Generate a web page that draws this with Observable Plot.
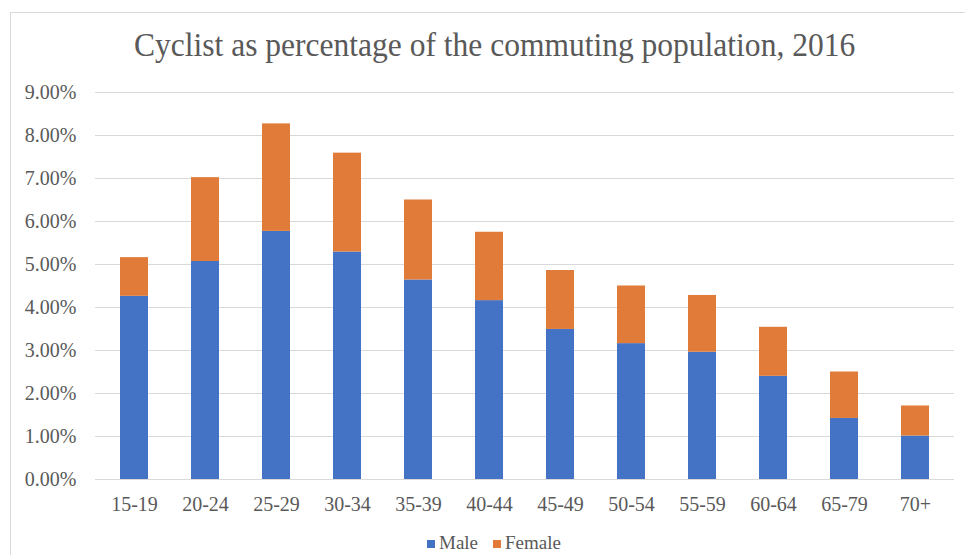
<!DOCTYPE html>
<html>
<head>
<meta charset="utf-8">
<script src="https://cdn.jsdelivr.net/npm/d3@7"></script>
<script src="https://cdn.jsdelivr.net/npm/@observablehq/plot@0.6"></script>
<style>
  html, body { margin: 0; padding: 0; background: #fff; }
  #chart { position: relative; width: 965px; height: 555px; overflow: hidden; font-family: "Liberation Serif", "Times New Roman", serif; color: #595959; }
  #frame { position: absolute; left: 10px; top: 12px; width: 970px; height: 560px; border: 1px solid #d9d9d9; box-sizing: border-box; }
  #title { position: absolute; left: 0; top: 27px; width: 990px; text-align: center; font-size: 33px; line-height: 36px; color: #595959; white-space: nowrap; }
  #title span { display: inline-block; transform: scaleX(0.955); }
  #plot { position: absolute; left: 0; top: 80px; }
  #legend { position: absolute; left: 427px; top: 534px; font-size: 19px; line-height: 18px; white-space: nowrap; }
  #legend span.item { margin-right: 15px; }
  #legend span.sw { display: inline-block; width: 8px; height: 8px; margin-right: 4px; vertical-align: 1px; }
</style>
</head>
<body>
<div id="chart">
  <div id="frame"></div>
  <div id="title"><span>Cyclist as percentage of the commuting population, 2016</span></div>
  <div id="plot"></div>
  <div id="legend"></div>
</div>
<script>
// Age bands and cycling share (% of commuters) by sex
const ageGroups = ["15-19", "20-24", "25-29", "30-34", "35-39", "40-44", "45-49", "50-54", "55-59", "60-64", "65-79", "70+"];
const male   = [4.26, 5.07, 5.77, 5.29, 4.64, 4.16, 3.49, 3.16, 2.96, 2.40, 1.42, 1.01];
const female = [0.90, 1.95, 2.50, 2.30, 1.86, 1.59, 1.37, 1.34, 1.32, 1.14, 1.08, 0.70];
const series = ["Male", "Female"];
const colors = ["#4472c4", "#e07b39"];
const yTicks = [0, 1, 2, 3, 4, 5, 6, 7, 8, 9];

const rows = [];
ageGroups.forEach((age, i) => {
  rows.push({age, sex: "Male", value: male[i]});
  rows.push({age, sex: "Female", value: female[i]});
});

const chart = Plot.plot({
  width: 965,
  height: 445,
  marginTop: 12,
  marginBottom: 46,
  marginLeft: 95,
  marginRight: 11,
  style: {fontFamily: "'Liberation Serif', 'Times New Roman', serif", fontSize: "20px", color: "#595959", background: "transparent"},
  x: {domain: ageGroups, paddingInner: 0.61, paddingOuter: 0.305, label: null},
  y: {domain: [0, 9], ticks: yTicks, label: null},
  color: {domain: series, range: colors},
  marks: [
    Plot.ruleY(yTicks, {stroke: "#d9d9d9", strokeWidth: 1}),
    Plot.barY(rows, Plot.stackY({order: series}, {x: "age", y: "value", fill: "sex"})),
    Plot.axisY({ticks: yTicks, tickSize: 0, tickPadding: 19, tickFormat: d => d.toFixed(2) + "%", fill: "#595959", fontSize: 20}),
    Plot.axisX({tickSize: 0, tickPadding: 17, fill: "#595959", fontSize: 20})
  ]
});
document.getElementById("plot").appendChild(chart);

// Legend below the chart
const legend = document.getElementById("legend");
series.forEach((name, i) => {
  const item = document.createElement("span");
  item.className = "item";
  const sw = document.createElement("span");
  sw.className = "sw";
  sw.style.background = colors[i];
  item.appendChild(sw);
  item.appendChild(document.createTextNode(name));
  legend.appendChild(item);
});
</script>
</body>
</html>
